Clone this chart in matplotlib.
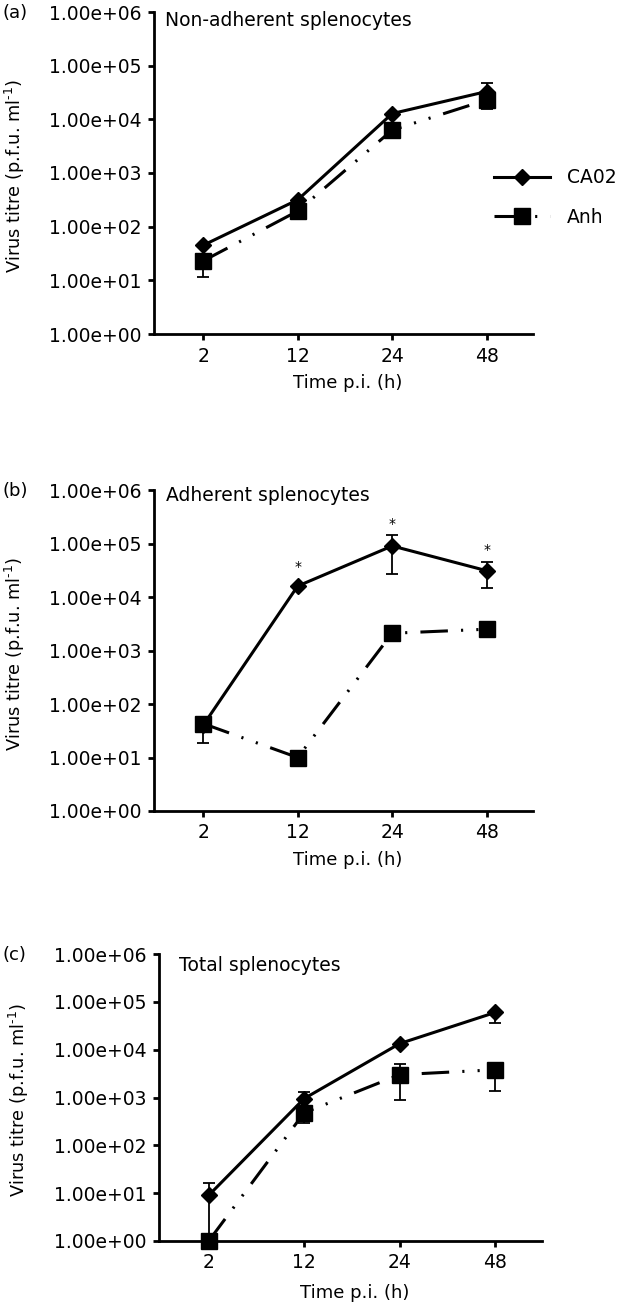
import matplotlib
matplotlib.use("Agg")
import matplotlib.pyplot as plt
import numpy as np
from matplotlib.ticker import FixedLocator, FixedFormatter, NullLocator

plt.rcParams['font.family'] = ['DejaVu Sans']
plt.rcParams['mathtext.default'] = 'regular'

# ---------------- data ----------------
times = ['2', '12', '24', '48']
series_names = ['CA02', 'Anh']

# (a) Non-adherent splenocytes
a_ca02 = [45, 316, 12800, 33000]
a_ca02_lo = [45, 316, 12800, 33000]
a_ca02_hi = [45, 316, 12800, 47000]
a_anh = [23, 195, 6300, 23000]
a_anh_lo = [11.5, 195, 6300, 15500]
a_anh_hi = [23, 195, 6300, 23000]

# (b) Adherent splenocytes
b_ca02 = [40, 16000, 90000, 31000]
b_ca02_lo = [40, 16000, 27000, 15000]
b_ca02_hi = [40, 16000, 145000, 46000]
b_anh = [43, 10, 2100, 2500]
b_anh_lo = [19, 10, 2100, 2500]
b_anh_hi = [43, 10, 2100, 2500]
b_signif = [False, True, True, True]

# (c) Total splenocytes
c_ca02 = [9, 950, 13400, 60000]
c_ca02_lo = [1, 950, 12000, 36000]
c_ca02_hi = [16.6, 1290, 13400, 60000]
c_anh = [1, 480, 3000, 3800]
c_anh_lo = [1, 290, 870, 1400]
c_anh_hi = [1, 480, 5100, 3800]

yticks = [1e0, 1e1, 1e2, 1e3, 1e4, 1e5, 1e6]
panel_titles = ['Non-adherent splenocytes', 'Adherent splenocytes', 'Total splenocytes']
panel_tags = ['(a)', '(b)', '(c)']
ylabel = 'Virus titre (p.f.u. ml$^{\\text{-1}}$)'
xlabel = 'Time p.i. (h)'

# ---------------- figure ----------------
W, H = 628, 1304
fig = plt.figure(figsize=(W / 100, H / 100), dpi=100)

# axes boxes in pixels: left, right, top, bottom
boxes = [(154, 533, 12, 334), (154, 533, 490, 811), (159, 542, 954, 1241)]
title_pos = [(0.029, 0.957), (0.032, 0.967), (0.052, 0.941)]
xlabel_y = [-0.125, -0.125, -0.15]

anh_ls = (0, (9, 4.3, 0.7, 4.3, 0.7, 4.3))
FS = 13.5

panels = [
    (a_ca02, a_ca02_lo, a_ca02_hi, a_anh, a_anh_lo, a_anh_hi),
    (b_ca02, b_ca02_lo, b_ca02_hi, b_anh, b_anh_lo, b_anh_hi),
    (c_ca02, c_ca02_lo, c_ca02_hi, c_anh, c_anh_lo, c_anh_hi),
]

axes = []
for i, (box, data) in enumerate(zip(boxes, panels)):
    l, r, t, b = box
    ax = fig.add_axes([l / W, 1 - b / H, (r - l) / W, (b - t) / H])
    axes.append(ax)
    ca, ca_lo, ca_hi, an, an_lo, an_hi = [np.asarray(d, float) for d in data]
    x = np.arange(len(times))

    ax.errorbar(x, an, yerr=[an - an_lo, an_hi - an], fmt='none', ecolor='black',
                elinewidth=1.3, capsize=4, capthick=1.3, zorder=2, clip_on=False)
    ax.errorbar(x, ca, yerr=[ca - ca_lo, ca_hi - ca], fmt='none', ecolor='black',
                elinewidth=1.3, capsize=4, capthick=1.3, zorder=2, clip_on=False)
    ax.plot(x, an, color='black', lw=2.2, linestyle=anh_ls, dash_capstyle='butt',
            marker='s', ms=11, mfc='black', mec='black', zorder=3, clip_on=False,
            label=series_names[1])
    ax.plot(x, ca, color='black', lw=2.2, linestyle='-',
            marker='D', ms=7.8, mfc='black', mec='black', zorder=4, clip_on=False,
            label=series_names[0])

    ax.set_yscale('log')
    ax.set_ylim(yticks[0], yticks[-1])
    ax.set_xlim(-0.52, 3.49)
    ax.yaxis.set_major_locator(FixedLocator(yticks))
    ax.yaxis.set_major_formatter(FixedFormatter([f'{v:.2e}' for v in yticks]))
    ax.yaxis.set_minor_locator(NullLocator())
    ax.set_xticks(x)
    ax.set_xticklabels(times)

    for s in ['top', 'right']:
        ax.spines[s].set_visible(False)
    for s in ['left', 'bottom']:
        ax.spines[s].set_linewidth(2.0)
    ax.tick_params(axis='both', which='major', direction='out', length=4.5,
                   width=2.0, labelsize=FS, pad=4.5, colors='black')

    ax.set_ylabel(ylabel, fontsize=12.8)
    ax.yaxis.set_label_coords(-0.335, 0.49)
    ax.set_xlabel(xlabel, fontsize=13)
    ax.xaxis.set_label_coords(0.51, xlabel_y[i])

    ax.text(title_pos[i][0], title_pos[i][1], panel_titles[i], transform=ax.transAxes,
            fontsize=FS, ha='left', va='baseline')
    fig.text(2 / W, 1 - (t + 1) / H, panel_tags[i], fontsize=13, ha='left', va='center')

    if i == 1:
        for k, sig in enumerate(b_signif):
            if sig:
                top = max(ca_hi[k], ca[k] * 10 ** 0.14)
                ax.annotate('*', xy=(k, top), xytext=(0, 3), textcoords='offset points',
                            ha='center', va='bottom', fontsize=10)

# legend (panel a)
h, lab = axes[0].get_legend_handles_labels()
order = [lab.index(n) for n in series_names]
fig.legend([h[j] for j in order], [lab[j] for j in order], loc='center left',
           bbox_to_anchor=(494 / W, 1 - 197.5 / H), frameon=False, fontsize=FS,
           handlelength=3.0, handletextpad=0.9, labelspacing=1.1, borderpad=0,
           borderaxespad=0)

fig.savefig('out.png', dpi=100)
